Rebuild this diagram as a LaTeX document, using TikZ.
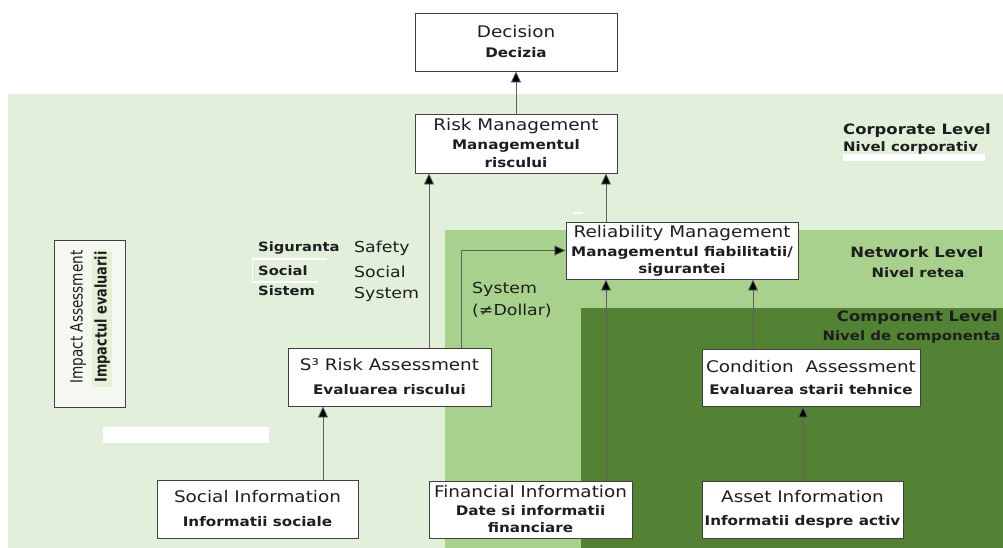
\documentclass[tikz,border=0pt]{standalone}
\usepackage{fontspec}
\usetikzlibrary{arrows.meta}
\newfontfamily\StretchSans[FakeStretch=1.15]{DejaVu Sans}
\newfontfamily\CompSans[FakeStretch=0.8]{DejaVu Sans}
\newcommand\myreg{\StretchSans\fontsize{16}{20}\selectfont}
\newcommand\mybold{\StretchSans\bfseries\fontsize{13.2}{20}\selectfont}
\newcommand\mylvlA{\StretchSans\bfseries\fontsize{14.3}{17}\selectfont}
\newcommand\mylvlB{\StretchSans\bfseries\fontsize{13}{17}\selectfont}
\newcommand\mynoteB{\StretchSans\bfseries\fontsize{12.8}{16}\selectfont}
\newcommand\mynoteR{\StretchSans\fontsize{15.1}{18}\selectfont}
\definecolor{lightg}{RGB}{226,239,218}
\definecolor{midg}{RGB}{169,209,142}
\definecolor{darkg}{RGB}{84,130,53}
\definecolor{boxline}{RGB}{64,64,64}
\definecolor{arrline}{RGB}{95,95,95}
\definecolor{txt}{RGB}{30,30,30}
\definecolor{impfill}{RGB}{245,248,241}
\definecolor{hilite}{RGB}{232,239,216}
\begin{document}
\begin{tikzpicture}[x=1pt,y=-1pt,
  box/.style={draw=boxline,fill=white,line width=0.9pt,inner sep=0pt,align=center,text=txt},
  arr/.style={draw=arrline,line width=0.8pt,-{Triangle[length=11pt,width=10pt,fill=black]}},
  lbl/.style={inner sep=0pt,text=txt,align=left},
  wline/.style={draw=white,line width=1.6pt}]
\useasboundingbox (0,0) rectangle (1003,548);
\fill[white] (0,0) rectangle (1003,548);
% level regions
\fill[lightg] (8,94) rectangle (1003,548);
\fill[midg] (445,230) rectangle (1003,548);
\fill[darkg] (581,308) rectangle (1003,548);
% white marks
\fill[white] (103,427) rectangle (269,443);
\fill[white] (843,154) rectangle (985,161);
\draw[white,line width=2.5pt] (573,213) -- (583,213);
\draw[wline] (252,259) -- (327,259);
\draw[wline] (253,282) -- (318,282);
\draw[white,line width=1pt] (252,259) -- (252,282);
% column coordinates
\coordinate (c323) at (323,0);
\coordinate (c429) at (429,0);
\coordinate (c461) at (461,0);
\coordinate (c606) at (606,0);
\coordinate (c753) at (753,0);
\coordinate (c803) at (803,0);
% boxes
\node[box,minimum width=202,minimum height=58,font=\fontsize{16}{20}\selectfont] (decision) at (516,42)
  {{\myreg Decision}\\{\mybold Decizia}};
\node[box,minimum width=202,minimum height=59,font=\fontsize{16}{18.5}\selectfont] (risk) at (516,143.5)
  {{\myreg Risk Management}\\{\mybold Managementul}\\{\mybold riscului}};
\node[box,minimum width=232,minimum height=57,font=\fontsize{16}{16.5}\selectfont] (rel) at (682,250.5)
  {{\myreg Reliability Management}\\[3pt]{\mybold Managementul fiabilitatii/}\\{\mybold sigurantei}};
\node[box,minimum width=203,minimum height=58,font=\fontsize{16}{24}\selectfont] (s3) at (389.5,377)
  {{\myreg S³ Risk Assessment}\\{\mybold Evaluarea riscului}};
\node[box,minimum width=218,minimum height=57,font=\fontsize{16}{22}\selectfont] (cond) at (811,377.5)
  {{\myreg Condition\ \ Assessment}\\{\mybold Evaluarea starii tehnice}};
\node[box,minimum width=201,minimum height=58,font=\fontsize{16}{24}\selectfont] (social) at (257.5,509)
  {{\myreg Social Information}\\{\mybold Informatii sociale}};
\node[box,minimum width=203,minimum height=57,font=\fontsize{16}{17.5}\selectfont] (fin) at (530.5,509.5)
  {{\myreg Financial Information}\\{\mybold Date si informatii}\\{\mybold financiare}};
\node[box,minimum width=201,minimum height=57,font=\fontsize{16}{23}\selectfont] (asset) at (802.5,509.5)
  {{\myreg Asset Information}\\{\mybold Informatii despre activ}};
% impact assessment box
\node[draw=boxline,fill=impfill,line width=0.9pt,minimum width=71,minimum height=167,inner sep=0pt] (impact) at (89.5,323.5) {};
\fill[hilite] (92,252) rectangle (112,387);
\node[rotate=90,inner sep=0pt,align=center,text=txt,font=\fontsize{16}{24}\selectfont] (impacttxt) at (90,317)
  {{\CompSans\fontsize{17}{24}\selectfont Impact Assessment}\\{\CompSans\bfseries\fontsize{16.1}{24}\selectfont Impactul evaluarii}};
% connectors
\draw[arr] (risk.north) -- (decision.south);
\draw[arr] (s3.north -| c429) -- (risk.south -| c429);
\draw[arr] (s3.north -| c461) |- (rel.west);
\draw[arr] (rel.north -| c606) -- (risk.south -| c606);
\draw[arr] (fin.north -| c606) -- (rel.south -| c606);
\draw[arr] (cond.north -| c753) -- (rel.south -| c753);
\draw[arr] (social.north -| c323) -- (s3.south -| c323);
\draw[arr] (asset.north -| c803) -- (cond.south -| c803);
% level labels
\node[lbl,anchor=west] (corpA) at (843,131) {\mylvlA Corporate Level};
\node[lbl,anchor=west] (corpB) at (843,148) {\mylvlB Nivel corporativ};
\node[lbl] (netA) at (917,252) {\mylvlA Network Level};
\node[lbl] (netB) at (918,273) {\mylvlB Nivel retea};
\node[lbl,anchor=east] (compA) at (998,318) {\mylvlA Component Level};
\node[lbl,anchor=east] (compB) at (1001,337) {\mylvlB Nivel de componenta};
% side notes
\node[lbl,anchor=west] (sig1) at (258,248) {\mynoteB Siguranta};
\node[lbl,anchor=west] (sig2) at (258,271) {\mynoteB Social};
\node[lbl,anchor=west] (sig3) at (258,291) {\mynoteB Sistem};
\node[lbl,anchor=west] (saf1) at (354,248) {\mynoteR Safety};
\node[lbl,anchor=west] (saf2) at (354,272) {\mynoteR Social};
\node[lbl,anchor=west] (saf3) at (354,294) {\mynoteR System};
\node[lbl,anchor=west] (sys1) at (472,289) {\mynoteR System};
\node[lbl,anchor=west] (sys2) at (472,311) {\mynoteR (≠Dollar)};
\end{tikzpicture}
\end{document}
